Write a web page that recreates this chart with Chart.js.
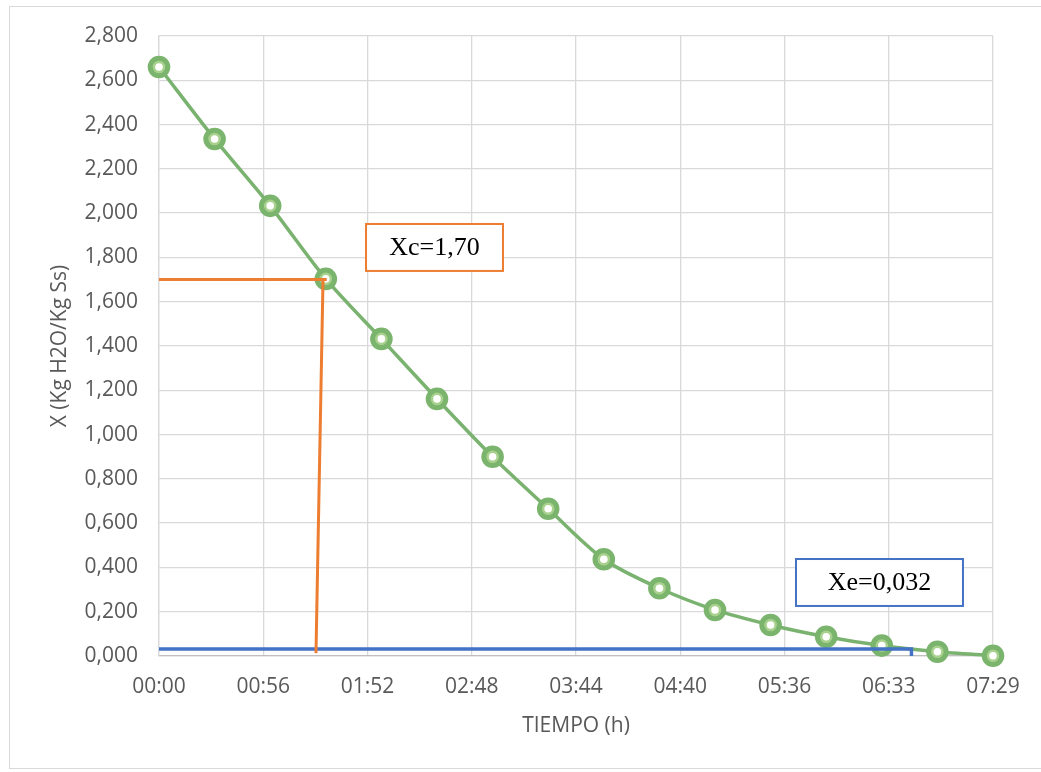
<!DOCTYPE html>
<html>
<head>
<meta charset="utf-8">
<script src="https://cdn.jsdelivr.net/npm/chart.js@4.4.1/dist/chart.umd.min.js"></script>
<style>
  html, body { margin: 0; padding: 0; background: #ffffff; overflow: hidden; }
  #wrap { position: relative; width: 1041px; height: 772px; }
  #frame { position: absolute; left: 9px; top: 6px; width: 1040px; height: 763px; border: 1px solid #d9d9d9; box-sizing: border-box; pointer-events: none; }
  canvas { position: absolute; left: 0; top: 0; }
</style>
</head>
<body>
<div id="wrap">
  <canvas id="chart" width="1041" height="772"></canvas>
  <div id="frame"></div>
</div>
<script>
// Drying time in minutes and moisture content X (kg H2O / kg dry solid)
const tiempoMin = [0, 30, 60, 90, 120, 150, 180, 210, 240, 270, 300, 330, 360, 390, 420, 450];
const humedadX = [2.660, 2.335, 2.033, 1.703, 1.432, 1.161, 0.900, 0.665, 0.437, 0.306, 0.208, 0.140, 0.087, 0.047, 0.019, 0.001];

// Time axis labels (hh:mm)
const etiquetasTiempo = ['00:00', '00:56', '01:52', '02:48', '03:44', '04:40', '05:36', '06:33', '07:29'];

// Critical moisture Xc and equilibrium moisture Xe guide lines
const xcValor = 1.70;
const xcHorizT = [0, 90.5];
const xcVertT = [88.5, 84.7];
const xcVertY = [1.70, 0.013];
const xeValor = 0.032;
const xeT = [0, 406, 406];
const xeY = [xeValor, xeValor, 0];

const tMax = 450;
const nIntervalos = etiquetasTiempo.length - 1;

const puntos = tiempoMin.map((t, i) => ({ x: t, y: humedadX[i] }));
const lineaXcH = xcHorizT.map(t => ({ x: t, y: xcValor }));
const lineaXcV = xcVertT.map((t, i) => ({ x: t, y: xcVertY[i] }));
const lineaXe = xeT.map((t, i) => ({ x: t, y: xeY[i] }));

const fmtComa = v => v.toFixed(3).replace('.', ',');

// Text boxes anchored in data coordinates
const cuadros = [
  { texto: 'Xc=' + xcValor.toFixed(2).replace('.', ','), t0: 111.7, t1: 185.6, y0: 1.951, y1: 1.739, color: '#ed7d31' },
  { texto: 'Xe=' + xeValor.toFixed(3).replace('.', ','), t0: 343.7, t1: 433.8, y0: 0.438, y1: 0.226, color: '#4472c4' }
];

const cuadrosPlugin = {
  id: 'cuadros',
  afterDatasetsDraw(chart) {
    const { ctx, scales: { x, y } } = chart;
    ctx.save();
    cuadros.forEach(c => {
      const l = x.getPixelForValue(c.t0), r = x.getPixelForValue(c.t1);
      const t = y.getPixelForValue(c.y0), b = y.getPixelForValue(c.y1);
      ctx.fillStyle = '#ffffff';
      ctx.fillRect(l, t, r - l, b - t);
      ctx.strokeStyle = c.color;
      ctx.lineWidth = 2;
      ctx.strokeRect(l, t, r - l, b - t);
      ctx.fillStyle = '#000000';
      ctx.font = '26px "Liberation Serif", "Times New Roman", serif';
      ctx.textAlign = 'center';
      ctx.textBaseline = 'middle';
      ctx.fillText(c.texto, (l + r) / 2, (t + b) / 2 + 1);
    });
    ctx.restore();
  }
};

const fuente = { family: '"Open Sans", "Noto Sans", sans-serif', size: 21 };

new Chart(document.getElementById('chart'), {
  type: 'line',
  data: {
    datasets: [
      {
        data: puntos,
        borderColor: '#7ab26f',
        borderWidth: 3.5,
        tension: 0.3,
        pointRadius: 8.8,
        pointBorderWidth: 5,
        pointBorderColor: '#7ab46d',
        pointBackgroundColor: '#a9d18e',
        clip: false,
        order: 3
      },
      {
        data: puntos,
        showLine: false,
        pointRadius: 3.8,
        pointBorderWidth: 0,
        pointBackgroundColor: '#ffffff',
        clip: false,
        order: 2
      },
      {
        data: lineaXe,
        borderColor: '#4472c4',
        borderWidth: 3.5,
        pointRadius: 0,
        tension: 0,
        clip: false,
        order: 1
      },
      {
        data: lineaXcH,
        borderColor: '#ed7d31',
        borderWidth: 3,
        pointRadius: 0,
        tension: 0,
        clip: false,
        order: 0
      },
      {
        data: lineaXcV,
        borderColor: '#ed7d31',
        borderWidth: 3,
        pointRadius: 0,
        tension: 0,
        clip: false,
        order: 0
      }
    ]
  },
  options: {
    responsive: false,
    animation: false,
    layout: { padding: { top: 36, right: 48, bottom: 0, left: 0 } },
    plugins: { legend: { display: false }, tooltip: { enabled: false } },
    scales: {
      x: {
        type: 'linear',
        min: 0,
        max: tMax,
        afterBuildTicks(scale) {
          scale.ticks = etiquetasTiempo.map((_, i) => ({ value: i * tMax / nIntervalos }));
        },
        afterFit(scale) { scale.height = 116; },
        ticks: {
          autoSkip: false,
          maxRotation: 0,
          padding: 18,
          color: '#595959',
          font: fuente,
          callback: (v, i) => etiquetasTiempo[i]
        },
        grid: { color: '#d9d9d9', lineWidth: 1.3, drawTicks: false },
        border: { color: '#bfbfbf', width: 1.3 },
        title: {
          display: true,
          text: 'TIEMPO (h)',
          color: '#595959',
          font: fuente,
          padding: { top: 0, bottom: 33 }
        }
      },
      y: {
        min: 0,
        max: 2.8,
        afterFit(scale) { scale.width = 159; },
        ticks: {
          stepSize: 0.2,
          padding: 21,
          color: '#595959',
          font: fuente,
          callback: v => fmtComa(v)
        },
        grid: { color: '#d9d9d9', lineWidth: 1.3, drawTicks: false },
        border: { color: '#d9d9d9', width: 1.3 },
        title: {
          display: true,
          text: 'X (Kg H2O/Kg Ss)',
          color: '#595959',
          font: fuente,
          padding: { top: 47, bottom: 0 }
        }
      }
    }
  },
  plugins: [cuadrosPlugin]
});
</script>
</body>
</html>
